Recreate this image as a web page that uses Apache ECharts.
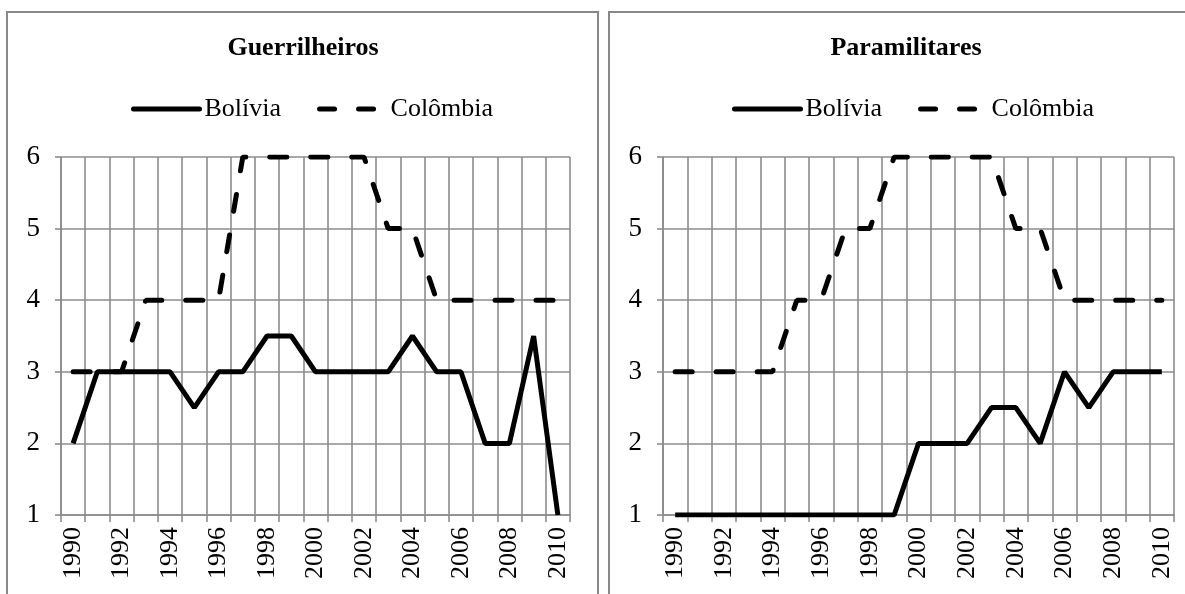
<!DOCTYPE html>
<html>
<head>
<meta charset="utf-8">
<script src="https://cdn.jsdelivr.net/npm/echarts@6/dist/echarts.min.js"></script>
<style>
  html, body { margin: 0; padding: 0; background: #fff; }
  #main { width: 1185px; height: 594px; }
</style>
</head>
<body>
<div id="main"></div>
<script>
// dados
var years = ['1990', '1991', '1992', '1993', '1994', '1995', '1996', '1997', '1998', '1999', '2000',
  '2001', '2002', '2003', '2004', '2005', '2006', '2007', '2008', '2009', '2010'];
var guerBolivia = [2, 3, 3, 3, 3, 2.5, 3, 3, 3.5, 3.5, 3, 3, 3, 3, 3.5, 3, 3, 2, 2, 3.5, 1];
var guerColombia = [3, 3, 3, 4, 4, 4, 4, 6, 6, 6, 6, 6, 6, 5, 5, 4, 4, 4, 4, 4, 4];
var paraBolivia = [1, 1, 1, 1, 1, 1, 1, 1, 1, 1, 2, 2, 2, 2.5, 2.5, 2, 3, 2.5, 3, 3, 3];
var paraColombia = [3, 3, 3, 3, 3, 4, 4, 5, 5, 6, 6, 6, 6, 6, 5, 5, 4, 4, 4, 4, 4];
var titles = ['Guerrilheiros', 'Paramilitares'];

var font = 'Liberation Serif';
var gridColor = '#8c8c8c';
var dashType = [17, 24];

var chart = echarts.init(document.getElementById('main'));

// eixo x
const makeX = (idx) => ({
  type: 'category',
  gridIndex: idx,
  data: years,
  boundaryGap: true,
  axisLine: { show: true, lineStyle: { color: gridColor, width: 1.6 } },
  axisTick: { show: true, interval: 0, length: 7, lineStyle: { color: gridColor, width: 1.6 } },
  axisLabel: { interval: 1, rotate: 90, margin: 12, color: '#000', fontFamily: font, fontSize: 26 },
  splitLine: { show: true, interval: 0, lineStyle: { color: gridColor, width: 1.6 } }
});

// eixo y
const makeY = (idx) => ({
  type: 'value',
  gridIndex: idx,
  min: 1,
  max: 6,
  interval: 1,
  axisLine: { show: true, lineStyle: { color: gridColor, width: 1.6 } },
  axisTick: { show: true, length: 6, lineStyle: { color: gridColor, width: 1.6 } },
  axisLabel: { margin: 21, color: '#000', fontFamily: font, fontSize: 27 },
  splitLine: { show: true, lineStyle: { color: gridColor, width: 1.6 } }
});

const solid = (name, idx, data) => ({
  name: name, type: 'line', xAxisIndex: idx, yAxisIndex: idx, data: data,
  symbol: 'none', z: 3, animation: false,
  lineStyle: { color: '#000', width: 5, type: 'solid' },
  itemStyle: { color: '#000' }
});

const dashed = (name, idx, data) => ({
  name: name, type: 'line', xAxisIndex: idx, yAxisIndex: idx, data: data,
  symbol: 'none', z: 2, animation: false,
  lineStyle: { color: '#000', width: 5, type: dashType, cap: 'round' },
  itemStyle: { color: '#000' }
});

// legenda: so a linha, sem simbolo
const makeLegend = (left) => ({
  left: left, top: 91,
  data: [
    { name: 'Bolívia', itemStyle: { color: 'transparent', borderWidth: 0 },
      lineStyle: { color: '#000', width: 5, type: 'solid', cap: 'round' } },
    { name: 'Colômbia', itemStyle: { color: 'transparent', borderWidth: 0 },
      lineStyle: { color: '#000', width: 5, type: [15, 24], cap: 'round' } }
  ],
  itemWidth: 66, itemHeight: 14, itemGap: 36,
  selectedMode: false,
  textStyle: { fontFamily: font, fontSize: 26, color: '#000' }
});

var option = {
  animation: false,
  graphic: [
    { type: 'rect', shape: { x: 7, y: 12, width: 591, height: 620 }, style: { fill: 'none', stroke: '#888', lineWidth: 2 } },
    { type: 'rect', shape: { x: 609, y: 12, width: 600, height: 620 }, style: { fill: 'none', stroke: '#888', lineWidth: 2 } },
    { type: 'text', x: 303, y: 48, style: { text: titles[0], align: 'center', verticalAlign: 'middle', font: 'bold 26px "Liberation Serif"', fill: '#000' } },
    { type: 'text', x: 906, y: 48, style: { text: titles[1], align: 'center', verticalAlign: 'middle', font: 'bold 26px "Liberation Serif"', fill: '#000' } }
  ],
  legend: [makeLegend(126), makeLegend(727)],
  grid: [
    { left: 61, top: 157, width: 509, height: 358 },
    { left: 663, top: 157, width: 511, height: 358 }
  ],
  xAxis: [makeX(0), makeX(1)],
  yAxis: [makeY(0), makeY(1)],
  series: [
    solid('Bolívia', 0, guerBolivia),
    dashed('Colômbia', 0, guerColombia),
    solid('Bolívia', 1, paraBolivia),
    dashed('Colômbia', 1, paraColombia)
  ]
};

chart.setOption(option);
</script>
</body>
</html>
